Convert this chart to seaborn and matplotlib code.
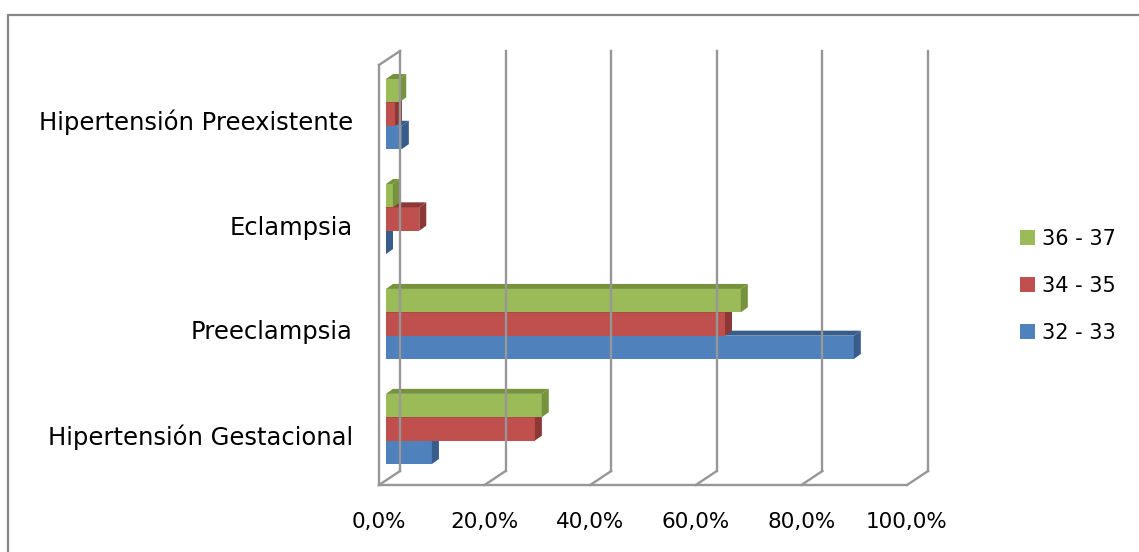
import numpy as np
import pandas as pd
import seaborn as sns
import matplotlib
matplotlib.use("Agg")
import matplotlib.pyplot as plt
import matplotlib.transforms as mtransforms
from matplotlib.patches import Polygon
from matplotlib.lines import Line2D

# --- data -----------------------------------------------------------------
categorias = ["Hipertensión Preexistente", "Eclampsia", "Preeclampsia",
              "Hipertensión Gestacional"]
grupos = ["36 - 37", "34 - 35", "32 - 33"]
sem_36_37 = [2.5, 1.3, 67.2, 29.5]
sem_34_35 = [1.7, 6.3, 64.2, 28.2]
sem_32_33 = [3.0, 0.0, 88.6, 8.7]
ticks_x = [0, 20, 40, 60, 80, 100]
etiquetas_x = ["0,0%", "20,0%", "40,0%", "60,0%", "80,0%", "100,0%"]

colores = ["#9BBB59", "#C0504D", "#4F81BD"]
sombras = ["#76923C", "#8C3836", "#385D8A"]
gris = "#979797"

df = pd.DataFrame({
    "categoria": categorias * 3,
    "grupo": [g for g in grupos for _ in categorias],
    "valor": sem_36_37 + sem_34_35 + sem_32_33,
})

sns.set_theme(style="white")
plt.rcParams["font.family"] = ["DejaVu Sans"]
plt.rcParams["text.color"] = "black"
FS_TICK = 15.5
FS_CAT = 17.5
FS_LEG = 15

W, H = 1139, 552
fig = plt.figure(figsize=(W / 100, H / 100), dpi=100)
fig.patch.set_facecolor("white")

# plot area (front plane of the bars)
ax_l, ax_r, ax_t, ax_b = 386, 914, 61.6, 481.4
ax = fig.add_axes([ax_l / W, (H - ax_b) / H, (ax_r - ax_l) / W, (ax_b - ax_t) / H])
ax.set_facecolor("none")

sns.barplot(data=df, x="valor", y="categoria", hue="grupo", order=categorias,
            hue_order=grupos, palette=colores, saturation=1, width=0.668,
            gap=0, orient="h", ax=ax, edgecolor="none", linewidth=0)
ax.set_xlim(0, 100)
ax.set_ylim(3.5, -0.5)
for s in ax.spines.values():
    s.set_visible(False)
ax.set_xlabel("")
ax.set_ylabel("")

# depth of each bar, in pixels (right, up)
DX, DY = 7, 5
ident = mtransforms.IdentityTransform()

# 3D faces: lower bars first so upper front faces hide their tops
for i, cont in enumerate(ax.containers):
    z = 10 - i
    for bar in cont:
        bar.set_zorder(z)
        (x0, y0), (x1, y1) = ax.transData.transform(
            [(bar.get_x(), bar.get_y() + bar.get_height()),
             (bar.get_x() + bar.get_width(), bar.get_y())])
        top = [(x0, y1), (x1, y1), (x1 + DX, y1 + DY), (x0 + DX, y1 + DY)]
        side = [(x1, y0), (x1, y1), (x1 + DX, y1 + DY), (x1 + DX, y0 + DY)]
        for pts in (top, side):
            ax.add_artist(Polygon(pts, closed=True, transform=ident,
                                  facecolor=sombras[i], edgecolor="none",
                                  zorder=z))

# walls and floor
FRONT = -7          # front plane relative to bar plane
BACK = 14           # back wall relative to bar plane
y_floor_front = H - 485
y_floor_back = H - 471
y_top_front = H - 65
y_top_back = H - 51
lw = 1.7


def px(t):
    return ax.transData.transform((t, 0))[0]


lines = []
lines.append(([px(0) + FRONT, px(100) + FRONT], [y_floor_front, y_floor_front]))
lines.append(([px(0) + FRONT, px(0) + FRONT], [y_floor_front, y_top_front]))
lines.append(([px(0) + FRONT, px(0) + BACK], [y_top_front, y_top_back]))
for t in ticks_x:
    xb = px(t) + BACK
    lines.append(([px(t) + FRONT, xb], [y_floor_front, y_floor_back]))
    lines.append(([xb, xb], [y_floor_back, y_top_back]))
for xs, ys in lines:
    fig.add_artist(Line2D(xs, ys, transform=ident, color=gris, lw=lw,
                          solid_capstyle="projecting", zorder=1))

# chart border
fig.add_artist(Line2D([8, W + 5], [H - 15, H - 15], transform=ident,
                      color="#868686", lw=1.6))
fig.add_artist(Line2D([8, 8], [H - 15, -5], transform=ident,
                      color="#868686", lw=1.6))

# tick labels
ax.set_xticks(ticks_x, etiquetas_x)
ax.tick_params(axis="x", length=0, pad=22, labelsize=FS_TICK, colors="black")
ax.tick_params(axis="y", length=0, pad=24, labelsize=FS_CAT, colors="black")
shift_x = mtransforms.ScaledTranslation(FRONT / 100, 0, fig.dpi_scale_trans)
for lab in ax.get_xticklabels():
    lab.set_transform(lab.get_transform() + shift_x)
shift_y = mtransforms.ScaledTranslation(0, -6 / 100, fig.dpi_scale_trans)
for lab in ax.get_yticklabels():
    lab.set_transform(lab.get_transform() + shift_y)

# legend
sns.move_legend(ax, loc="center left", bbox_to_anchor=(1020 / W, (H - 286) / H),
                bbox_transform=fig.transFigure, frameon=False, title=None,
                fontsize=FS_LEG, handlelength=0.72, handleheight=0.72,
                handletextpad=0.33, labelspacing=1.3, borderpad=0,
                borderaxespad=0)
for t in ax.get_legend().get_texts():
    t.set_color("black")

fig.savefig("out.png", dpi=100, facecolor="white")
